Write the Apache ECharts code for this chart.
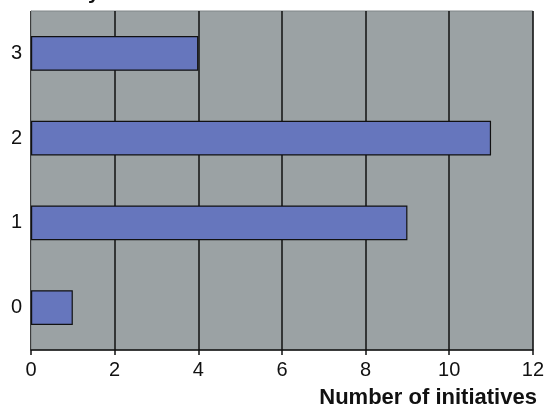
<!DOCTYPE html>
<html><head><meta charset="utf-8">
<script src="https://cdn.jsdelivr.net/npm/echarts@6/dist/echarts.min.js"></script>
<style>html,body{margin:0;padding:0;background:#fff}#c{width:547px;height:409px}</style>
</head><body><div id="c"></div>
<script>
const categories = ['0', '1', '2', '3'];
const values = [1, 9, 11, 4];
const xTicks = [0, 2, 4, 6, 8, 10, 12];
const xAxisName = 'Number of initiatives';

const chart = echarts.init(document.getElementById('c'), null, {renderer: 'canvas'});
chart.setOption({
  animation: false,
  backgroundColor: '#ffffff',
  grid: {left: 31, right: 10, top: 11, bottom: 57, show: true, backgroundColor: '#9ba2a4', borderColor: '#808688', borderWidth: 1},
  graphic: [{type: 'text', left: 88, top: -17, style: {text: 'y', font: 'bold 21px "Liberation Sans", Arial, sans-serif', fill: '#111'}}],
  xAxis: {
    type: 'value', min: 0, max: 12, interval: 2,
    name: xAxisName, nameLocation: 'end', nameGap: 0,
    nameTextStyle: {fontFamily: 'Liberation Sans', fontWeight: 'bold', fontSize: 22, color: '#111', align: 'right', verticalAlign: 'top', padding: [37, -4, 0, 0]},
    axisLine: {show: true, lineStyle: {color: '#111', width: 1.5}},
    axisTick: {show: true, length: 5, lineStyle: {color: '#111', width: 1.5}},
    axisLabel: {fontFamily: 'Liberation Sans', fontSize: 20, color: '#111', margin: 10,
      formatter: v => xTicks.includes(v) ? String(v) : ''},
    splitLine: {show: true, lineStyle: {color: '#111', width: 1.5}}
  },
  yAxis: {
    type: 'category', data: categories,
    axisLine: {show: true, lineStyle: {color: '#8a9092', width: 1}},
    axisTick: {show: false},
    axisLabel: {fontFamily: 'Liberation Sans', fontSize: 20, color: '#111', margin: 9},
    splitLine: {show: false}
  },
  series: [{
    type: 'bar', data: values, barWidth: '41%',
    itemStyle: {color: '#6676bd', borderColor: '#111', borderWidth: 1.2}
  }]
});
</script></body></html>
